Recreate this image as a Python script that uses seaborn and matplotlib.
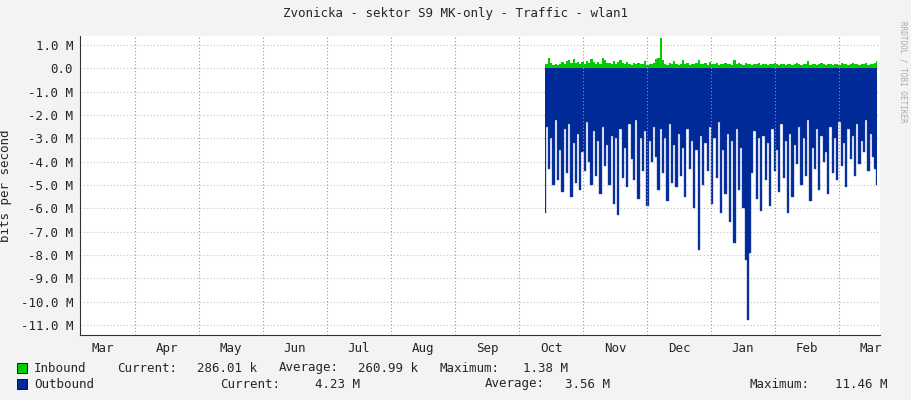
import matplotlib
matplotlib.use("Agg")
import matplotlib.pyplot as plt
import seaborn as sns
import numpy as np
import pandas as pd

# month labels (ticks placed mid-month), boundaries at integer positions
months = ['Mar', 'Apr', 'May', 'Jun', 'Jul', 'Aug', 'Sep', 'Oct', 'Nov', 'Dec', 'Jan', 'Feb', 'Mar']
data_start = 6.4   # in month units, Oct
data_end = 11.6

# outbound traffic, megabits (drawn negative)
outbound = [
    6.2, 2.5, 4.3, 3.0, 5.0, 2.2, 4.8, 3.5, 5.3, 2.6,
    4.5, 2.4, 5.5, 3.2, 4.9, 2.8, 5.2, 3.6, 4.4, 2.3,
    4.0, 5.0, 2.7, 4.6, 3.1, 5.4, 2.5, 4.2, 3.3, 5.0,
    2.9, 5.8, 3.0, 6.3, 2.6, 4.7, 3.4, 5.1, 2.4, 3.9,
    4.8, 2.2, 5.6, 3.0, 4.4, 2.7, 5.9, 3.1, 4.0, 2.5,
    3.8, 5.2, 2.6, 4.5, 3.0, 5.7, 2.4, 4.9, 3.3, 5.1,
    2.8, 4.6, 3.4, 5.5, 2.6, 4.3, 3.1, 6.0, 3.5, 7.8,
    2.9, 5.0, 3.2, 4.4, 2.5, 5.8, 3.0, 4.7, 2.3, 6.2,
    3.5, 5.4, 2.8, 6.6, 3.1, 7.5, 2.6, 5.2, 3.4, 6.0,
    8.2, 10.8, 7.9, 4.5, 2.7, 5.6, 3.0, 6.1, 2.9, 4.8,
    3.2, 5.9, 2.6, 4.4, 3.5, 5.3, 2.4, 4.7, 3.1, 6.2,
    2.8, 5.5, 3.3, 4.1, 2.5, 5.0, 3.0, 4.6, 2.2, 5.7,
    3.4, 4.3, 2.6, 5.2, 2.9, 4.0, 3.6, 5.4, 2.5, 4.5,
    3.0, 4.8, 2.3, 4.2, 3.2, 5.1, 2.6, 3.9, 2.9, 4.6,
    2.4, 4.1, 3.1, 3.6, 2.2, 4.4, 2.8, 3.8, 4.3, 5.0,
]

# inbound traffic, megabits
inbound = [
    0.20, 0.18, 0.45, 0.22, 0.16, 0.18, 0.15, 0.20, 0.28, 0.18,
    0.30, 0.35, 0.25, 0.40, 0.22, 0.28, 0.20, 0.26, 0.18, 0.30,
    0.22, 0.42, 0.28, 0.20, 0.26, 0.18, 0.45, 0.34, 0.22, 0.25,
    0.20, 0.30, 0.18, 0.26, 0.34, 0.22, 0.18, 0.28, 0.20, 0.16,
    0.22, 0.18, 0.25, 0.20, 0.18, 0.30, 0.16, 0.20, 0.18, 0.22,
    0.40, 0.45, 1.30, 0.38, 0.20, 0.16, 0.25, 0.18, 0.30, 0.20,
    0.16, 0.20, 0.34, 0.18, 0.22, 0.16, 0.18, 0.20, 0.25, 0.38,
    0.20, 0.18, 0.22, 0.16, 0.28, 0.20, 0.18, 0.22, 0.16, 0.20,
    0.18, 0.25, 0.20, 0.18, 0.16, 0.38, 0.20, 0.25, 0.18, 0.16,
    0.22, 0.20, 0.18, 0.16, 0.20, 0.18, 0.22, 0.16, 0.18, 0.20,
    0.16, 0.18, 0.20, 0.22, 0.18, 0.16, 0.20, 0.18, 0.16, 0.20,
    0.18, 0.16, 0.20, 0.25, 0.18, 0.16, 0.20, 0.18, 0.30, 0.16,
    0.18, 0.20, 0.16, 0.18, 0.22, 0.18, 0.16, 0.20, 0.18, 0.16,
    0.20, 0.18, 0.16, 0.22, 0.18, 0.20, 0.16, 0.18, 0.25, 0.20,
    0.18, 0.16, 0.20, 0.18, 0.22, 0.16, 0.18, 0.20, 0.25, 0.30,
]

yticks = [1, 0, -1, -2, -3, -4, -5, -6, -7, -8, -9, -10, -11]

df = pd.DataFrame({
    'x': np.linspace(data_start, data_end, len(outbound)),
    'inbound': inbound,
    'outbound': -np.array(outbound),
})

sns.set_style('white')
plt.rcParams['font.family'] = ['DejaVu Sans Mono']
fig = plt.figure(figsize=(9.11, 4.0), dpi=100, facecolor='#f3f3f3')
ax = fig.add_axes([80 / 911, 65 / 400, 800 / 911, 299 / 400])
ax.set_facecolor('white')

GREEN = '#00cc00'
BLUE = '#002a97'

ax.fill_between(df['x'], 0, df['inbound'], step='mid', color=GREEN, lw=0, zorder=3)
ax.fill_between(df['x'], 0, df['outbound'], step='mid', color=BLUE, lw=0, zorder=3)
sns.lineplot(data=df, x='x', y='outbound', drawstyle='steps-mid', color='#3050b0', lw=0.3, ax=ax, zorder=3)

ax.set_xlim(-0.86, 11.64)
ax.set_ylim(-11.43, 1.39)

# grid
for y in yticks:
    ax.axhline(y, color='#c0c0c0', ls=(0, (1, 2)), lw=0.8, zorder=1)
for k in range(12):
    ax.axvline(k, color='#ee7070', ls=(0, (1, 2)), lw=0.8, zorder=4 if data_start < k else 1)

fs = 9
ax.set_xticks([k - 0.5 for k in range(len(months))])
ax.set_xticklabels(months, fontsize=fs)
ax.set_yticks(yticks)
ax.set_yticklabels(['%.1f M' % v if v != 0 else '0.0' for v in yticks], fontsize=fs)
ax.tick_params(axis='both', length=0, pad=5)
for s in ['top', 'right']:
    ax.spines[s].set_visible(False)
for s in ['left', 'bottom']:
    ax.spines[s].set_color('#333333')
    ax.spines[s].set_linewidth(0.8)
ax.set_xlabel('')
ax.set_ylabel('bits per second', fontsize=fs, labelpad=6)

fig.text(0.5, 1 - 14 / 400, 'Zvonicka - sektor S9 MK-only - Traffic - wlan1',
         ha='center', va='center', fontsize=fs)
fig.text(903 / 911, 0.82, 'RRDTOOL / TOBI OETIKER', rotation=270, ha='center', va='center',
         fontsize=5.5, color='#aaaaaa')

# legend
def t(x, y, s):
    fig.text(x / 911, 1 - y / 400, s, ha='left', va='center', fontsize=fs)

fig.patches.append(plt.Rectangle((17 / 911, 1 - 373 / 400), 10 / 911, 10 / 400,
                                 transform=fig.transFigure, facecolor=GREEN, edgecolor='black', lw=0.6))
fig.patches.append(plt.Rectangle((17 / 911, 1 - 389 / 400), 10 / 911, 10 / 400,
                                 transform=fig.transFigure, facecolor=BLUE, edgecolor='black', lw=0.6))
t(34, 368, 'Inbound'); t(117, 368, 'Current:'); t(197, 368, '286.01 k')
t(279, 368, 'Average:'); t(358, 368, '260.99 k'); t(440, 368, 'Maximum:'); t(523, 368, '1.38 M')
t(34, 384, 'Outbound'); t(220, 384, 'Current:'); t(315, 384, '4.23 M')
t(485, 384, 'Average:'); t(565, 384, '3.56 M'); t(750, 384, 'Maximum:'); t(835, 384, '11.46 M')

fig.savefig('out.png', dpi=100, facecolor=fig.get_facecolor())
